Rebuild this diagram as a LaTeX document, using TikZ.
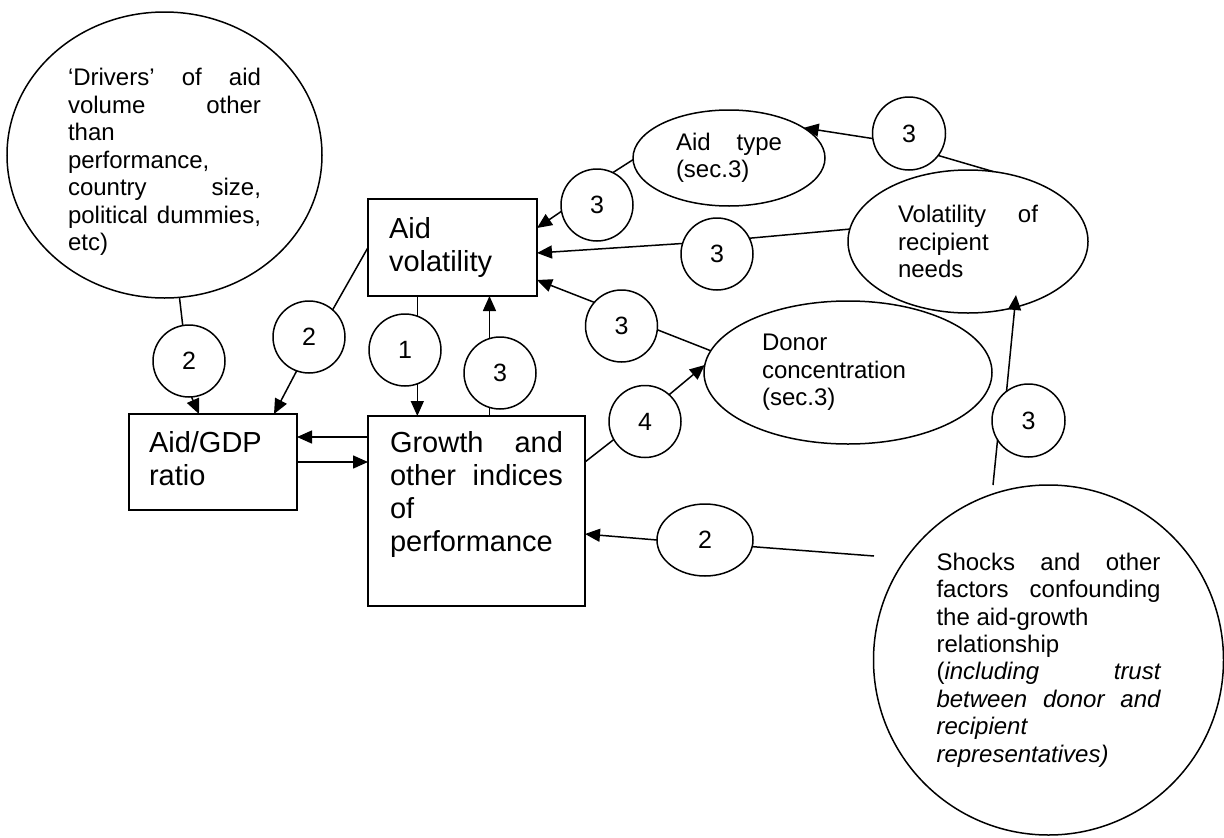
\documentclass[tikz,border=0pt]{standalone}
\usepackage{fontspec}
\setmainfont{Liberation Sans}
\usetikzlibrary{arrows.meta,shapes.geometric,calc}
\hyphenpenalty=10000
\exhyphenpenalty=10000
\begin{document}
\begin{tikzpicture}[x=1pt,y=-1pt,
  every node/.style={inner sep=0pt, outer sep=0pt},
  conn/.style={line width=1.5pt, black},
  arr/.style={conn, -{Triangle[length=15pt,width=13pt]}},
  numc/.style={circle, draw, line width=1.5pt, fill=white, minimum size=72pt, font=\fontsize{25}{30}\selectfont},
  numo/.style={ellipse, draw, line width=1.5pt, fill=white, minimum width=96pt, minimum height=72pt, font=\fontsize{25}{30}\selectfont},
  box/.style={rectangle, draw, line width=1.5pt, fill=white, align=justify, font=\fontsize{29}{33.3}\selectfont},
  oval/.style={ellipse, draw, line width=1.5pt, fill=white, align=justify, font=\fontsize{24}{27.5}\selectfont},
]
\useasboundingbox (0,0) rectangle (1224,838);

% main shapes
\node[oval, minimum width=315pt, minimum height=286pt, text width=193pt, text depth=156pt] (drivers) at (164.5,155)
  {‘Drivers’ of aid\linebreak volume other\linebreak than\newline performance,\newline country size,\linebreak political dummies,\linebreak etc)};
\node[box, minimum width=169pt, minimum height=97pt, text width=127pt] (avol) at (452.5,247.5)
  {Aid\newline volatility};
\node[box, minimum width=168pt, minimum height=96pt, text width=128pt, text depth=41pt] (gdp) at (213,462)
  {Aid/GDP\newline ratio};
\node[box, minimum width=217pt, minimum height=190pt, text width=173pt, text depth=139pt] (gr) at (476.5,511)
  {Growth and\linebreak other indices\linebreak of\newline performance};
\node[oval, minimum width=192pt, minimum height=96pt, text width=106pt] (aidtype) at (729,158)
  {Aid type\linebreak (sec.3)};
\node[oval, minimum width=240pt, minimum height=143pt, text width=140pt] (vol) at (968,241.5)
  {Volatility of\linebreak recipient\newline needs};
\node[oval, minimum width=288pt, minimum height=143pt, text width=172pt] (donor) at (848,372.5)
  {Donor\newline concentration\newline (sec.3)};
\node[circle, draw, line width=1.5pt, fill=white, minimum size=350pt, text width=224pt, align=justify,
      font=\fontsize{24}{27.4}\selectfont] (shocks) at (1048.5,660)
  {Shocks and other\linebreak factors confounding\linebreak the aid-growth\newline relationship\newline (\textit{including trust\linebreak between donor and\linebreak recipient\newline representatives)}};

% numbered circles
\node[numc] (c2a) at (189,361) {2};
\node[numc] (c2b) at (309,337) {2};
\node[numc] (c1) at (405,350) {1};
\node[numc] (c3g) at (500,373) {3};
\node[numc] (c3t) at (597,205) {3};
\node[numc] (c3m) at (717,254) {3};
\node[numc] (c3d) at (621.5,326) {3};
\node[numc] (c4) at (645,421.5) {4};
\node[numo] (e2) at (705,540) {2};
\node[numc, minimum size=73pt] (c3top) at (909,133.5) {3};
\node[numc, minimum size=73pt] (c3s) at (1028.5,420.5) {3};

\coordinate (e2end) at (874,556);
\coordinate (shtop) at (993,485);

% connectors
\draw[conn] (drivers.-84.7) -- (c2a.100.7);
\draw[arr] (c2a.-86.8) -- ($(gdp.north west)+(70,0)$);
\draw[conn] (avol.west) -- (c2b.49);
\draw[arr] (c2b.-110.4) -- ($(gdp.north west)+(145,0)$);
\draw[conn] (avol.south -| c1.70.5) -- (c1.70.5);
\draw[arr] (c1.-70.5) -- (c1.-70.5 |- gr.north);
\draw[conn] (c3g.-107.8 |- gr.north) -- (c3g.-107.8);
\draw[arr] (c3g.107.8) -- (c3g.107.8 |- avol.south);
\draw[arr] ($(gr.north west)+(0,21)$) -- ($(gdp.north east)+(0,23)$);
\draw[arr] ($(gdp.north east)+(0,48)$) -- ($(gr.north west)+(0,46)$);
\draw[conn] (aidtype.181) -- (c3t.64);
\draw[arr] (c3t.190.7) -- ($(avol.north east)+(0,29)$);
\draw[conn] (vol.174.5) -- (c3m.26.6);
\draw[arr] (c3m.163) -- ($(avol.north east)+(0,54)$);
\draw[conn] (donor.171.4) -- (c3d.-6.3);
\draw[arr] (c3d.139.7) -- ($(avol.north east)+(0,81)$);
\draw[conn] ($(gr.north east)+(0,46)$) -- (c4.210.6);
\draw[arr] (c4.48.7) -- (donor.177.8);
\draw[arr] (e2.west) -- ($(gr.north east)+(0,118)$);
\draw[conn] (e2.-8.5) -- (e2end);
\draw[conn] (shtop) -- (c3s.212.6);
\draw[arr] (c3s.127) -- ($(vol.center)+(48,53.5)$);
\draw[arr] (c3top.188.7) -- (aidtype.22);
\draw[conn] (c3top.-37.8) -- (vol.70.7);
\end{tikzpicture}
\end{document}
